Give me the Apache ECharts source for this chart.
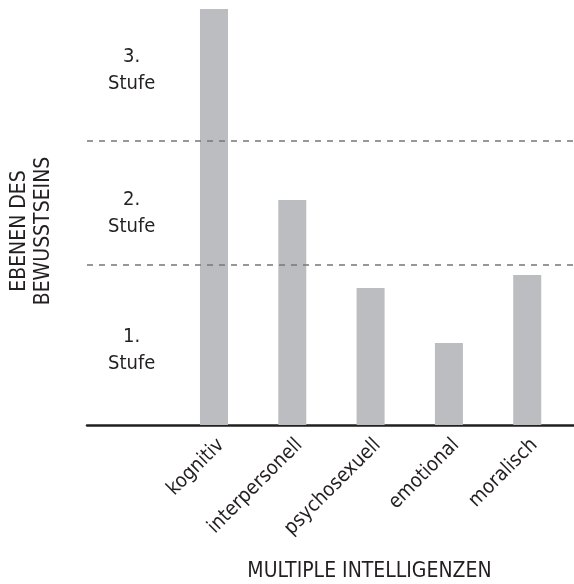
<!DOCTYPE html>
<html>
<head>
<meta charset="utf-8">
<script src="https://cdn.jsdelivr.net/npm/echarts@6/dist/echarts.min.js"></script>
<style>
html,body{margin:0;padding:0;background:#fff;}
#chart{width:574px;height:584px;}
</style>
</head>
<body>
<div id="chart"></div>
<script>
var categories = ['', 'kognitiv', 'interpersonell', 'psychosexuell', 'emotional', 'moralisch'];
var barValues = [null, 416, 225, 137, 82, 150];
var levelBoundaries = [160, 284];
var levelLabels = ['1.\nStufe', '2.\nStufe', '3.\nStufe'];
var levelLabelValues = [75, 212, 355];
var xAxisTitle = 'MULTIPLE INTELLIGENZEN';
var yAxisTitle = 'EBENEN DES\nBEWUSSTSEINS';

var FONT = '"Liberation Sans Narrow", "DejaVu Sans Condensed", "Liberation Sans", sans-serif';
var TXT = '#231f20';

var chart = echarts.init(document.getElementById('chart'), null, {renderer: 'canvas'});
var option = {
  animation: false,
  backgroundColor: '#fff',
  grid: [
    {left: 96.5, right: 7.6, top: 5, bottom: 159, containLabel: false, outerBoundsMode: 'none'},
    {left: 87, right: 0, top: 5, bottom: 159, containLabel: false, outerBoundsMode: 'none'}
  ],
  xAxis: [
    {
      gridIndex: 0, type: 'category', data: categories,
      axisLine: {show: false}, axisTick: {show: false},
      axisLabel: {rotate: 45, interval: 0, margin: 10, verticalAlign: 'top', fontFamily: FONT, fontSize: 20, color: TXT},
      name: xAxisTitle, nameLocation: 'middle', nameGap: 136,
      nameTextStyle: {fontFamily: FONT, fontSize: 21, color: TXT, padding: [0, 0, 0, 76]}
    },
    {
      gridIndex: 1, type: 'value', min: 0, max: 1,
      axisLine: {show: true, onZero: false, lineStyle: {color: '#231f20', width: 2.5}},
      axisTick: {show: false}, axisLabel: {show: false}, splitLine: {show: false}
    }
  ],
  yAxis: [
    {
      gridIndex: 0, type: 'value', min: 0, max: 420,
      axisLine: {show: false}, axisTick: {show: false}, axisLabel: {show: false}, splitLine: {show: false},
      name: yAxisTitle, nameLocation: 'middle', nameRotate: 90, nameGap: 41,
      nameTextStyle: {fontFamily: FONT, fontSize: 21, color: TXT, lineHeight: 24, align: 'center', padding: [0, 32, 0, 0]}
    },
    {
      gridIndex: 1, type: 'value', min: 0, max: 420,
      axisLine: {show: false}, axisTick: {show: false}, axisLabel: {show: false}, splitLine: {show: false}
    }
  ],
  series: [
    {
      type: 'bar', xAxisIndex: 0, yAxisIndex: 0, data: barValues, barWidth: 28,
      itemStyle: {color: '#bcbdc0'}, silent: true
    },
    {
      type: 'scatter', xAxisIndex: 0, yAxisIndex: 0, symbolSize: 0,
      itemStyle: {opacity: 1},
      data: levelLabelValues.map(function (v, i) { return {value: [0, v], label: {formatter: levelLabels[i]}}; }),
      label: {show: true, position: 'inside', offset: [-4, 0], fontFamily: FONT, fontSize: 20, color: TXT, opacity: 1, lineHeight: 27, align: 'center'},
      silent: true
    },
    {
      type: 'line', xAxisIndex: 1, yAxisIndex: 1, data: [], silent: true,
      markLine: {
        symbol: ['none', 'none'], silent: true, label: {show: false},
        lineStyle: {color: '#777777', type: [6, 6], width: 1.5},
        data: levelBoundaries.map(function (v) { return {yAxis: v}; })
      }
    }
  ]
};
chart.setOption(option);
</script>
</body>
</html>
